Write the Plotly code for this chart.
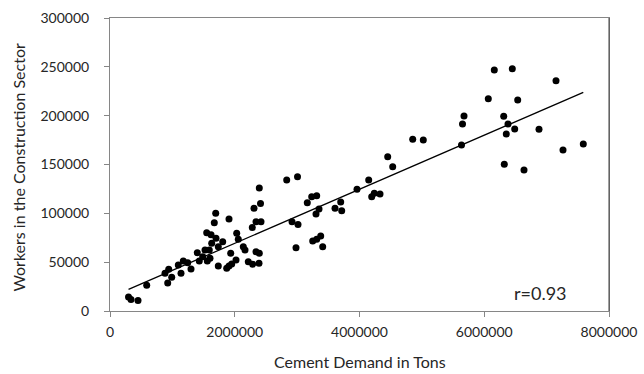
import numpy as np
import plotly.graph_objects as go

cement_tons = [
    297000, 336700, 448900, 588400, 881800, 941100, 989200, 925000, 1095000, 1138300,
    1175100, 1245700, 1298600, 1399600, 1431700, 1486200, 1523000, 1559900, 1603200, 1592000,
    1630500, 1550300, 1620000, 1699400, 1806800, 1736300, 1672100, 1694600, 1907800, 1736300,
    1870900, 1907800, 1951100, 2020000, 1935100, 2031300, 2056900, 2137100, 2164300, 2217200,
    2287800, 2388800, 2340700, 2393600, 2281400, 2308600, 2340700, 2420800, 2412800, 2393600,
    2832900, 3006000, 2917800, 3014000, 2982000, 3163100, 3233700, 3313800, 3350700, 3302600,
    3249700, 3313800, 3377900, 3410000, 3607200, 3698600, 3714600, 3959900, 4147500, 4195600,
    4237300, 4328600, 4452100, 4532200, 4852900, 5022800, 5635200, 5651300, 5675300, 6161100,
    6449700, 6064900, 6536200, 6311800, 6380700, 6488100, 6353500, 6877700, 7150300, 6321400,
    6637200, 7262500, 7587900,
]
workers = [
    14300, 11800, 10750, 26300, 38600, 42700, 34500, 28700, 47100, 38600,
    51200, 49500, 43000, 59700, 51200, 55600, 62500, 51200, 54000, 62500,
    69300, 80200, 78000, 74400, 71000, 65800, 90400, 100000, 94200, 46100,
    43700, 46100, 48100, 52200, 59100, 79600, 73400, 65800, 62500, 50500,
    47800, 48800, 60700, 59100, 85500, 105200, 91400, 91400, 110100, 126000,
    134100, 137500, 91400, 88600, 64800, 110900, 117000, 118100, 104400, 99300,
    71700, 73400, 76800, 65800, 105200, 111600, 102700, 124600, 134100, 117000,
    120500, 119800, 158000, 147800, 175800, 175100, 170000, 191500, 199700, 246800,
    248100, 217400, 216100, 199400, 191500, 186400, 181200, 186100, 235800, 150200,
    144400, 164900, 171000,
]
x_ticks = [0, 2000000, 4000000, 6000000, 8000000]
y_ticks = [0, 50000, 100000, 150000, 200000, 250000, 300000]
x_title = "Cement Demand in Tons"
y_title = "Workers in the Construction Sector"
r_label = "r=0.93"

x = np.array(cement_tons, dtype=float)
y = np.array(workers, dtype=float)
slope, intercept = np.polyfit(x, y, 1)
trend_x = np.array([x.min(), x.max()])
trend_y = slope * trend_x + intercept

font_family = "Lato, Open Sans, sans-serif"
text_color = "#262626"
axis_color = "#868686"

fig = go.Figure()
fig.add_trace(go.Scatter(
    x=cement_tons, y=workers, mode="markers",
    marker=dict(color="black", size=7, line=dict(width=0)),
    showlegend=False,
))
fig.add_trace(go.Scatter(
    x=trend_x, y=trend_y, mode="lines",
    line=dict(color="black", width=1.3),
    showlegend=False,
))

fig.add_annotation(
    x=6900000, y=18500, xref="x", yref="y", text=r_label, showarrow=False,
    font=dict(family=font_family, size=18, color=text_color),
)
fig.add_annotation(
    x=0.5, y=-0.174, xref="paper", yref="paper", text=x_title, showarrow=False,
    xanchor="center", yanchor="middle",
    font=dict(family=font_family, size=16, color=text_color),
)
fig.add_annotation(
    x=-0.184, y=0.49, xref="paper", yref="paper", text=y_title, showarrow=False,
    xanchor="center", yanchor="middle", textangle=-90,
    font=dict(family=font_family, size=16, color=text_color),
)

fig.add_shape(type="line", xref="paper", yref="paper", x0=1, x1=1, y0=0, y1=1,
              line=dict(color="#404040", width=1))

fig.update_layout(
    width=644, height=374,
    margin=dict(l=110, r=35, t=18, b=63),
    paper_bgcolor="white", plot_bgcolor="white",
    font=dict(family=font_family, size=14, color=text_color),
    xaxis=dict(
        range=[0, 8000000], tickvals=x_ticks, ticktext=[str(v) for v in x_ticks],
        showgrid=False, zeroline=False, showline=True, linecolor=axis_color, linewidth=1,
        mirror=True, ticks="outside", ticklen=5, tickcolor=axis_color,
        tickfont=dict(size=14), ticklabelstandoff=3, automargin=False,
    ),
    yaxis=dict(
        range=[0, 300000], tickvals=y_ticks, ticktext=[str(v) for v in y_ticks],
        showgrid=False, zeroline=False, showline=True, linecolor=axis_color, linewidth=1,
        mirror=True, ticks="outside", ticklen=5, tickcolor=axis_color,
        tickfont=dict(size=14), ticklabelstandoff=12, automargin=False,
    ),
)

fig.write_html(
    "out.html",
    config={"displayModeBar": False},
    post_script="document.body.style.margin='0';document.body.style.overflow='hidden';",
)
